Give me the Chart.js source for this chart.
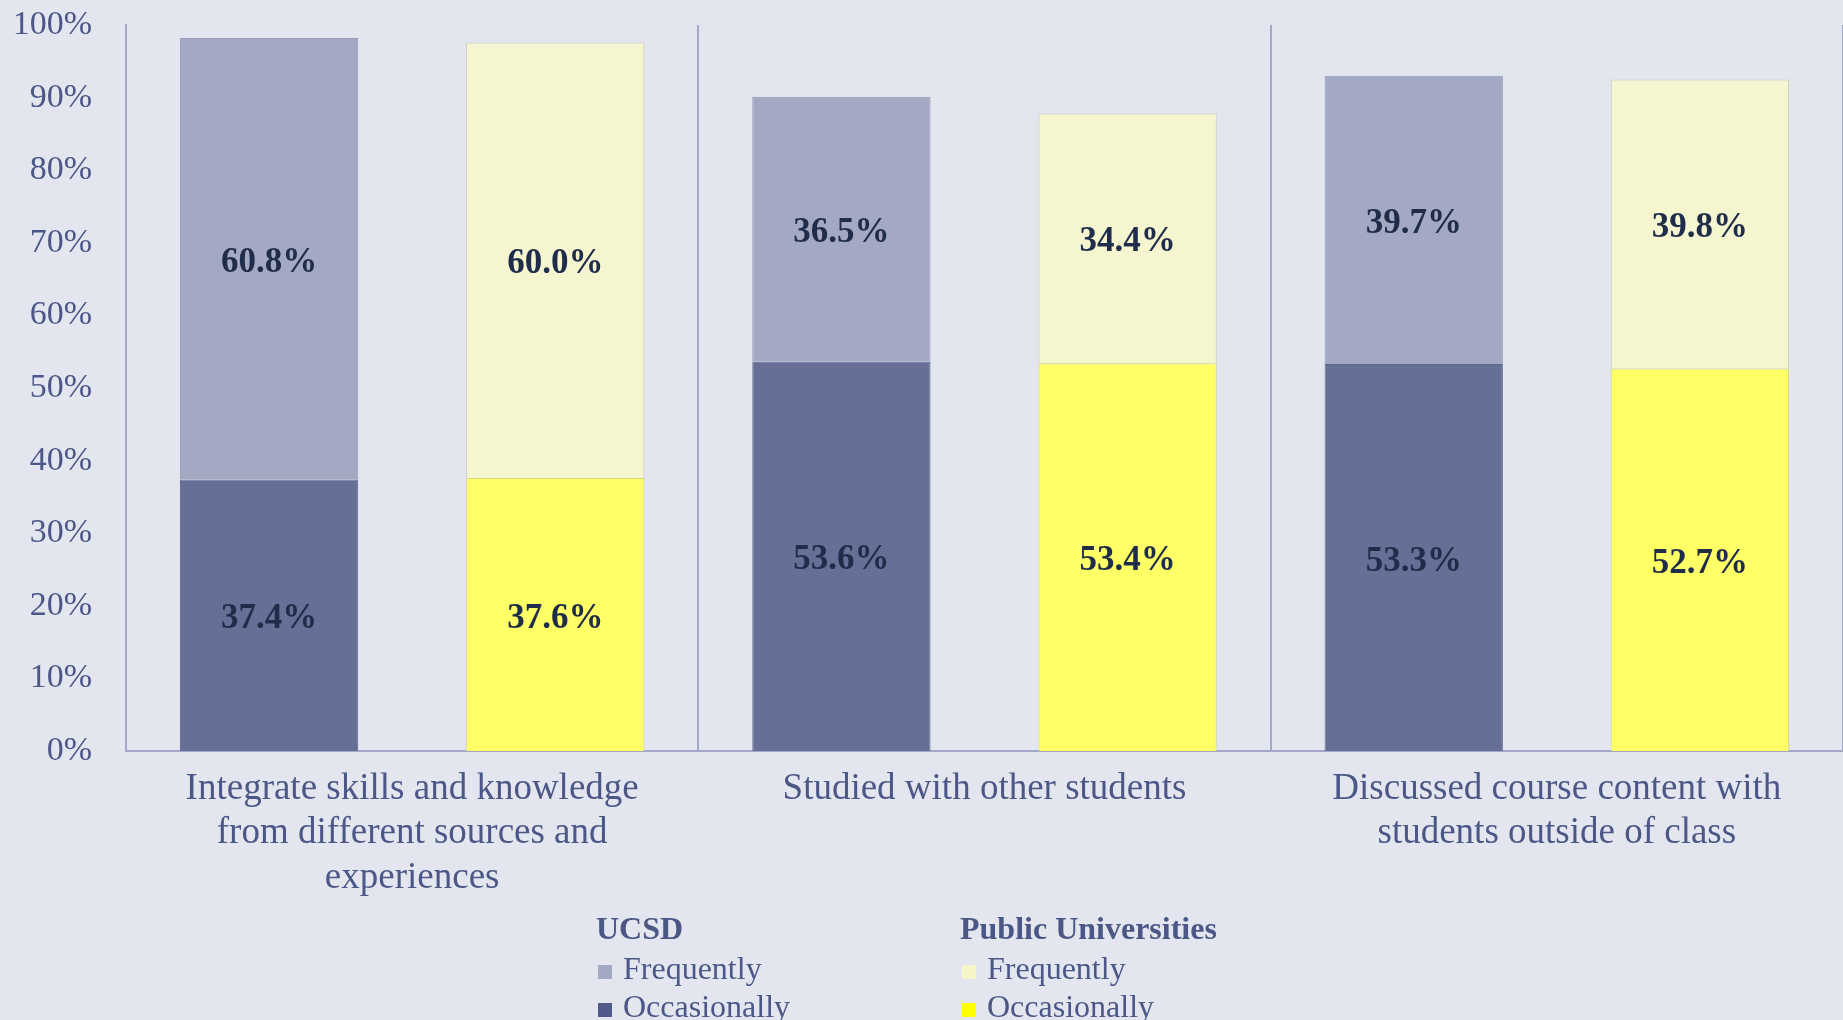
<!DOCTYPE html>
<html>
<head>
<meta charset="utf-8">
<script src="https://cdn.jsdelivr.net/npm/chart.js@4/dist/chart.umd.min.js"></script>
<style>
  html, body { margin: 0; padding: 0; background: #e3e6ee; }
  #wrap { width: 1843px; height: 1020px; position: relative; }
</style>
</head>
<body>
<div id="wrap"><canvas id="myChart" width="1843" height="1020"></canvas></div>
<script>
// Categorias (etiquetas en varias lineas)
const categories = [
  ["Integrate skills and knowledge", "from different sources and", "experiences"],
  ["Studied with other students"],
  ["Discussed course content with", "students outside of class"]
];

// Valores (%)
const ucsdOccasionally = [37.4, 53.6, 53.3];
const ucsdFrequently = [60.8, 36.5, 39.7];
const publicOccasionally = [37.6, 53.4, 52.7];
const publicFrequently = [60.0, 34.4, 39.8];

const yTicks = [0, 10, 20, 30, 40, 50, 60, 70, 80, 90, 100];

const groupNames = ["UCSD", "Public Universities"];
const seriesNames = ["Frequently", "Occasionally"];

const FONT = "'Liberation Serif', 'Times New Roman', serif";
const TEXT = "#4b5787";
const PLOT_TOP = 25;
const PLOT_BOTTOM = 751;

// Etiquetas de valor centradas en cada segmento
const valueLabels = {
  id: "valueLabels",
  afterDatasetsDraw(chart) {
    const ctx = chart.ctx;
    ctx.save();
    ctx.font = "bold 35px " + FONT;
    ctx.fillStyle = "#1f2d4a";
    ctx.textAlign = "center";
    ctx.textBaseline = "middle";
    chart.data.datasets.forEach((ds, i) => {
      chart.getDatasetMeta(i).data.forEach((bar, j) => {
        const y = (bar.y + bar.base) / 2 + 4;
        ctx.fillText(ds.data[j].toFixed(1) + "%", bar.x, y);
      });
    });
    ctx.restore();
  }
};

// Leyenda en dos columnas con encabezados
const groupLegend = {
  id: "groupLegend",
  afterDraw(chart) {
    const ctx = chart.ctx;
    const cols = [
      { x: 596, colors: ["#a3a8c3", "#505a88"] },
      { x: 960, colors: ["#f5f5c8", "#ffff00"] }
    ];
    ctx.save();
    ctx.textBaseline = "middle";
    ctx.textAlign = "left";
    cols.forEach((c, i) => {
      ctx.fillStyle = TEXT;
      ctx.font = "bold 32px " + FONT;
      ctx.fillText(groupNames[i], c.x, 931);
      ctx.font = "32px " + FONT;
      seriesNames.forEach((name, k) => {
        const y = 971 + k * 38;
        ctx.fillStyle = c.colors[k];
        ctx.fillRect(c.x + 2, y - 6, 14, 14);
        ctx.fillStyle = TEXT;
        ctx.fillText(name, c.x + 27, y);
      });
    });
    ctx.restore();
  }
};

const ctx = document.getElementById("myChart").getContext("2d");
new Chart(ctx, {
  type: "bar",
  data: {
    labels: categories,
    datasets: [
      { label: "UCSD Occasionally", data: ucsdOccasionally, stack: "ucsd",
        backgroundColor: "#667096", borderColor: "#5f6990", borderWidth: 1 },
      { label: "UCSD Frequently", data: ucsdFrequently, stack: "ucsd",
        backgroundColor: "#a3a8c3", borderColor: "#959bbb", borderWidth: 1 },
      { label: "Public Occasionally", data: publicOccasionally, stack: "public",
        backgroundColor: "#ffff66", borderColor: "#d8d88a", borderWidth: 1 },
      { label: "Public Frequently", data: publicFrequently, stack: "public",
        backgroundColor: "#f5f5d0", borderColor: "#c9cbbd", borderWidth: 1 }
    ]
  },
  options: {
    responsive: false,
    animation: false,
    categoryPercentage: 1.0,
    barPercentage: 0.623,
    layout: { padding: 0 },
    plugins: {
      legend: { display: false },
      tooltip: { enabled: false }
    },
    scales: {
      x: {
        stacked: true,
        afterFit: s => { s.height = 1020 - PLOT_BOTTOM; },
        grid: { color: "#a3a8c8", lineWidth: 2, drawTicks: false },
        border: { color: "#a3a8c8", width: 2 },
        ticks: {
          color: TEXT,
          padding: 16,
          maxRotation: 0,
          font: { family: FONT, size: 37, lineHeight: 1.2 }
        }
      },
      y: {
        stacked: true,
        min: 0,
        max: 100,
        afterFit: s => { s.width = 126; s.paddingTop = PLOT_TOP; s.paddingBottom = 0; },
        afterBuildTicks: s => { s.ticks = yTicks.map(v => ({ value: v })); },
        grid: { display: false, drawTicks: false },
        border: { color: "#a3a8c8", width: 2 },
        ticks: {
          color: TEXT,
          padding: 34,
          font: { family: FONT, size: 34 },
          callback: v => v + "%"
        }
      }
    }
  },
  plugins: [valueLabels, groupLegend]
});
</script>
</body>
</html>
